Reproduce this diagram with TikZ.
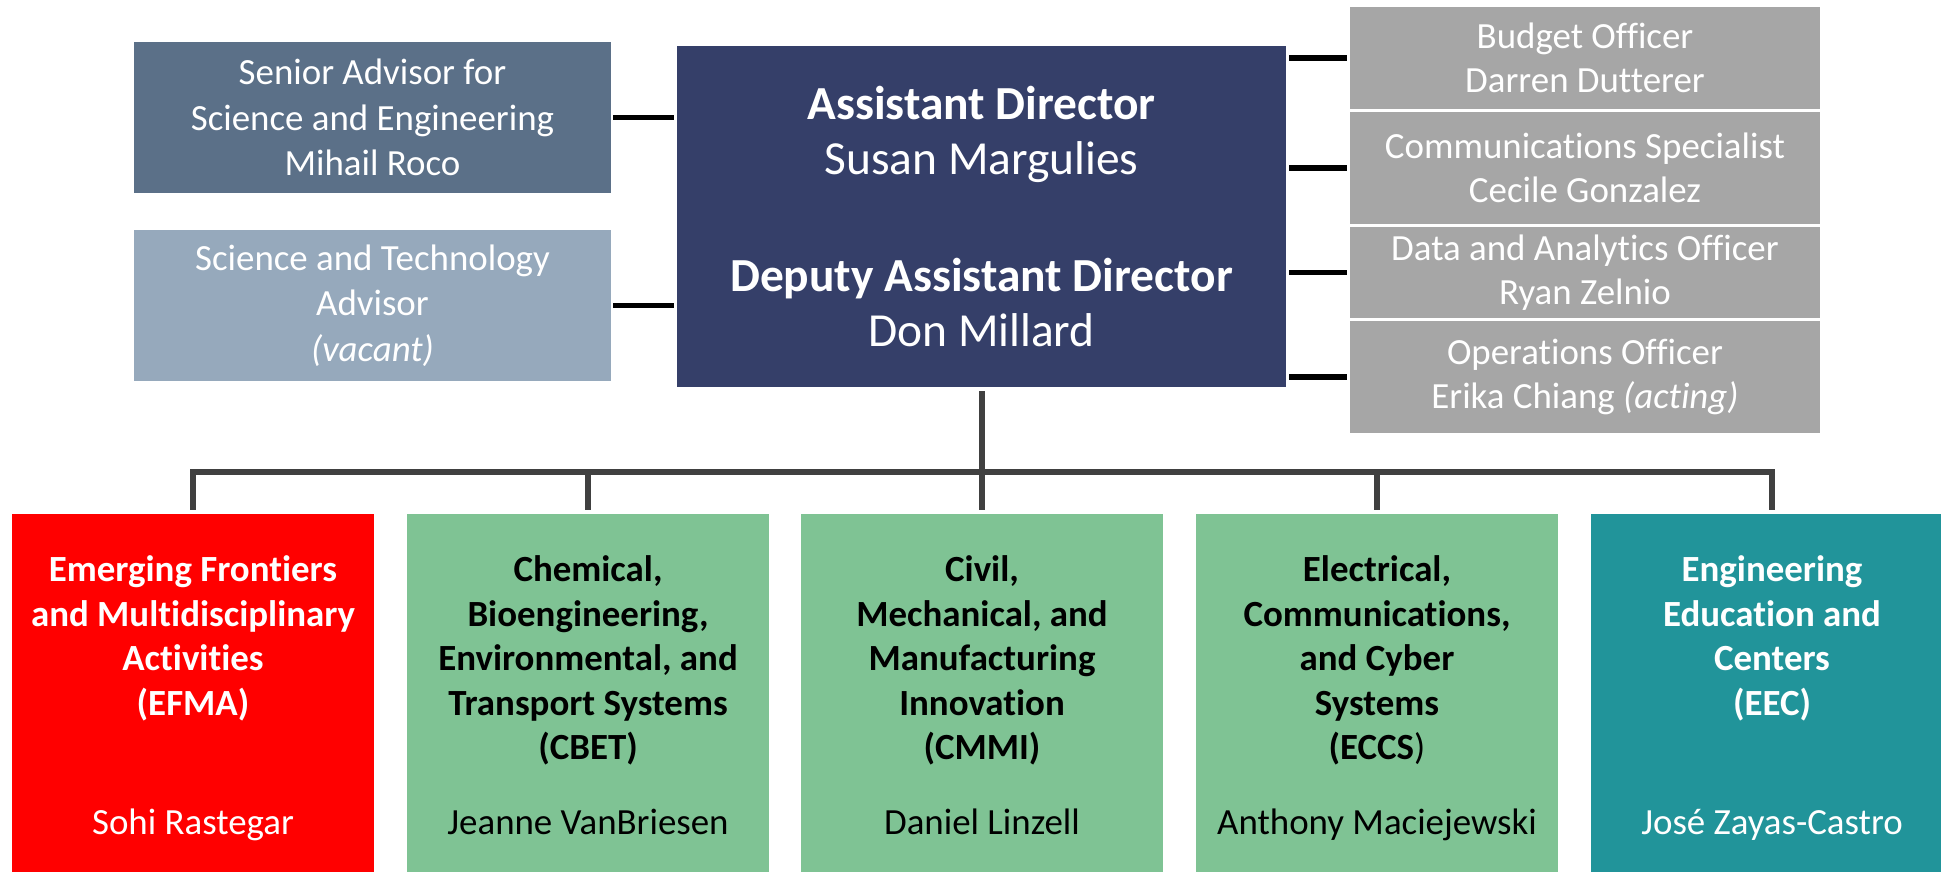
\documentclass[tikz,border=0pt]{standalone}
\usepackage{fontspec}
\setmainfont{Carlito}[Ligatures=NoCommon]
\usetikzlibrary{positioning}
\definecolor{seniorblue}{HTML}{5B7088}
\definecolor{advisorblue}{HTML}{96A9BC}
\definecolor{mainblue}{HTML}{353F69}
\definecolor{officegrey}{HTML}{A6A6A6}
\definecolor{efmared}{HTML}{FF0000}
\definecolor{divgreen}{HTML}{7FC394}
\definecolor{eecteal}{HTML}{21949A}
\definecolor{treegrey}{HTML}{404040}
\begin{document}
\begin{tikzpicture}
[x=0.02cm,y=-0.02cm,
  boxdecorate/.style={shape=rectangle,inner sep=0pt,align=center,text=white},
  advisordecorate/.style={boxdecorate,minimum width=9.54cm,minimum height=3.02cm,font=\fontsize{21}{26}\selectfont},
  officedecorate/.style={boxdecorate,fill=officegrey,minimum width=9.4cm,font=\fontsize{21}{25}\selectfont},
  divdecorate/.style={shape=rectangle,inner sep=0pt,minimum width=7.24cm,minimum height=7.16cm},
  titledecorate/.style={align=center,inner sep=0pt,font=\bfseries\fontsize{21}{25.3}\selectfont},
  namedecorate/.style={inner sep=0pt,text height=15.5pt,text depth=5pt,font=\fontsize{21}{25}\selectfont},
  linedecorate/.style={-,line width=0.11cm,black},
  treedecorate/.style={-,line width=0.12cm,treegrey}]
\useasboundingbox (0,0) rectangle (1941,872);
%% director and advisors
\node (main) at (981.5,216.5) [boxdecorate,fill=mainblue,minimum width=12.18cm,minimum height=6.82cm,font=\fontsize{27}{31}\selectfont]
  {\textbf{Assistant Director}\\Susan Margulies\\[36pt]\textbf{Deputy Assistant Director}\\Don Millard};
\node (senior) at (372.5,117.5) [advisordecorate,fill=seniorblue] {Senior Advisor for\\Science and Engineering\\Mihail Roco};
\node (sciadv) at (372.5,305.5) [advisordecorate,fill=advisorblue] {Science and Technology\\Advisor\\\textit{(vacant)}};
%% staff offices
\foreach \nodename/\y/\h/\txt in {budget/58/2.04/{Budget Officer\\Darren Dutterer},
    comms/168/2.24/{Communications Specialist\\Cecile Gonzalez},
    data/272.5/1.82/{Data and Analytics Officer\\Ryan Zelnio},
    ops/377/2.24/{Operations Officer\\Erika Chiang \textit{(acting)}}} {
  \node (\nodename) at (1585,\y) [officedecorate,minimum height=\h cm] {\txt};
}
%% divisions
\foreach \nodename/\x/\colour/\ink/\title/\who in {
    efma/193/efmared/white/{Emerging Frontiers\\and Multidisciplinary\\Activities\\(EFMA)}/Sohi Rastegar,
    cbet/588/divgreen/black/{Chemical,\\Bioengineering,\\Environmental, and\\Transport Systems\\(CBET)}/Jeanne VanBriesen,
    cmmi/982/divgreen/black/{Civil,\\Mechanical, and\\Manufacturing\\Innovation\\(CMMI)}/Daniel Linzell,
    eccs/1377/divgreen/black/{Electrical,\\Communications,\\and Cyber\\Systems\\(ECCS{\mdseries)}}/Anthony Maciejewski,
    eec/1772/eecteal/white/{Engineering\\Education and\\Centers\\(EEC)}/José Zayas-Castro} {
  \node (\nodename) at (\x,693) [divdecorate,fill=\colour] {};
  \node (\nodename title) [titledecorate,text=\ink,below=0.84cm of \nodename.north] {\title};
  \node (\nodename name) [namedecorate,text=\ink,above=0.58cm of \nodename.south] {\who};
}
%% side lines
\path
\foreach \startnode in {senior, sciadv} {
  (\startnode.east) edge[linedecorate,shorten <=0.04cm,shorten >=0.06cm] (\startnode.east -| main.west)
};
\path
\foreach \endnode in {budget, comms, data, ops} {
  (main.east |- \endnode.west) edge[linedecorate,shorten <=0.06cm,shorten >=0.06cm] (\endnode.west)
};
%% tree to divisions
\coordinate (bus) at (981,472);
\draw[treedecorate,shorten <=0.08cm,shorten >=0.08cm] (main.south) -- (main.south |- cmmi.north);
\draw[treedecorate,shorten <=0.08cm,shorten >=0.08cm] (efma.north) -- (efma.north |- bus) -- (eec.north |- bus) -- (eec.north);
\path
\foreach \endnode in {cbet, eccs} {
  (\endnode.north |- bus) edge[treedecorate,shorten >=0.08cm] (\endnode.north)
};
\end{tikzpicture}
\end{document}
